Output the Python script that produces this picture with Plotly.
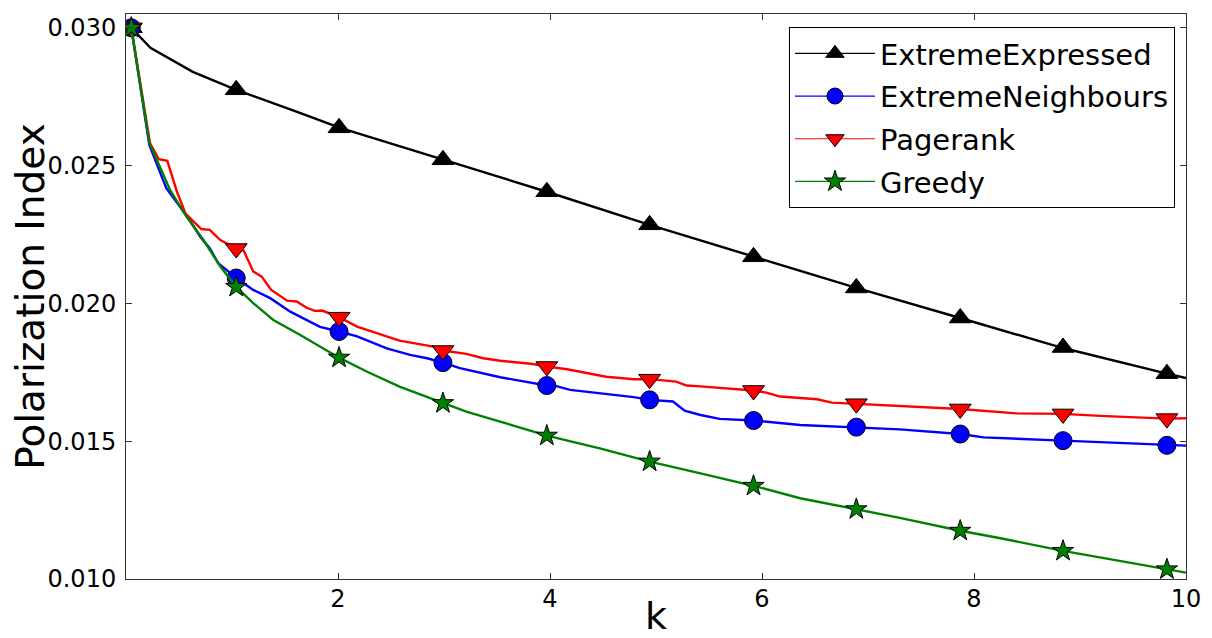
import plotly.graph_objects as go

# ---- data ----
marker_k = [0.05, 1.04, 2.01, 2.99, 3.97, 4.94, 5.92, 6.89, 7.87, 8.84, 9.82]

ee_k = [0.05, 0.23, 0.63, 1.04, 1.64, 2.02, 3.0, 3.97, 4.94, 5.92, 6.89, 7.87, 8.84, 9.82, 10.0]
ee_v = [0.0300, 0.02927, 0.0284, 0.02775, 0.02691, 0.02637, 0.02521, 0.02405, 0.02285,
        0.02169, 0.02056, 0.01947, 0.01838, 0.01745, 0.01729]
ee_marker_v = [0.0300, 0.02775, 0.02637, 0.02521, 0.02405, 0.02285, 0.02169, 0.02056,
               0.01947, 0.01840, 0.01745]

en_k = [0.05, 0.22, 0.38, 0.60, 0.70, 0.79, 0.87, 1.04, 1.2, 1.36, 1.55, 1.70, 1.83, 2.01,
        2.18, 2.46, 2.68, 2.84, 2.99, 3.15, 3.28, 3.53, 3.97, 4.06, 4.19, 4.47, 4.79, 4.94,
        5.16, 5.27, 5.42, 5.60, 5.92, 6.36, 6.89, 7.30, 7.87, 8.09, 8.84, 9.19, 9.82, 10.0]
en_v = [0.0300, 0.02575, 0.02418, 0.02303, 0.02242, 0.02200, 0.02146, 0.02092, 0.02049,
        0.02019, 0.01970, 0.01940, 0.01915, 0.01898, 0.01880, 0.01837, 0.01813, 0.01801,
        0.01785, 0.01765, 0.01753, 0.01732, 0.01702, 0.01700, 0.01686, 0.01674, 0.01660,
        0.01650, 0.01644, 0.01611, 0.01595, 0.01581, 0.01575, 0.01559, 0.01551, 0.01543,
        0.01526, 0.01514, 0.01502, 0.01496, 0.01485, 0.01484]
en_marker_v = [0.0300, 0.02092, 0.01898, 0.01785, 0.01702, 0.01650, 0.01575, 0.01551,
               0.01526, 0.01502, 0.01485]

pr_k = [0.05, 0.226, 0.31, 0.39, 0.48, 0.56, 0.71, 0.79, 0.89, 1.04, 1.11, 1.20, 1.28, 1.37,
        1.52, 1.61, 1.70, 1.78, 1.85, 2.01, 2.18, 2.37, 2.58, 2.90, 2.99, 3.21, 3.37, 3.53,
        3.84, 3.97, 4.16, 4.53, 4.79, 4.94, 5.19, 5.29, 5.42, 5.92, 6.04, 6.17, 6.52, 6.66,
        6.89, 7.30, 7.87, 8.40, 8.84, 9.19, 9.82, 10.0]
pr_v = [0.0300, 0.02582, 0.02523, 0.02517, 0.02406, 0.02327, 0.02270, 0.02267, 0.02230,
        0.02199, 0.02192, 0.02116, 0.02097, 0.02049, 0.02010, 0.02007, 0.01985, 0.01973,
        0.01974, 0.01950, 0.01916, 0.01892, 0.01865, 0.01843, 0.01829, 0.01817, 0.01801,
        0.01792, 0.01780, 0.01771, 0.01761, 0.01734, 0.01725, 0.01725, 0.01716, 0.01702,
        0.01699, 0.01684, 0.01676, 0.01662, 0.01652, 0.01640, 0.01636, 0.01628, 0.01617,
        0.01601, 0.01599, 0.01592, 0.01582, 0.01583]
pr_marker_v = [0.0300, 0.02199, 0.01950, 0.01829, 0.01771, 0.01725, 0.01684, 0.01636,
               0.01617, 0.01599, 0.01582]

gr_k = [0.05, 0.22, 0.415, 0.57, 0.73, 0.89, 1.04, 1.2, 1.39, 1.56, 1.64, 2.01, 2.27, 2.58,
        2.99, 3.21, 3.53, 3.97, 4.47, 4.94, 5.42, 5.92, 6.36, 6.89, 7.30, 7.87, 8.25, 8.84,
        9.19, 9.82, 10.0]
gr_v = [0.0300, 0.02583, 0.02412, 0.02315, 0.02230, 0.02134, 0.02060, 0.02001, 0.01940,
        0.01904, 0.01886, 0.01803, 0.01753, 0.01698, 0.01638, 0.01607, 0.01571, 0.01520,
        0.01474, 0.01426, 0.01383, 0.01338, 0.01293, 0.01253, 0.01222, 0.01175, 0.01148,
        0.01102, 0.01079, 0.01035, 0.01023]
gr_marker_v = [0.0300, 0.0206, 0.01803, 0.01638, 0.01520, 0.01426, 0.01338, 0.01253,
               0.01175, 0.01102, 0.01035]

series_names = ["ExtremeExpressed", "ExtremeNeighbours", "Pagerank", "Greedy"]
x_ticks = [2, 4, 6, 8, 10]
y_ticks = [0.010, 0.015, 0.020, 0.025, 0.030]

# ---- style ----
styles = [
    dict(color="#000000", symbol="triangle-up", size=19),
    dict(color="#0000ff", symbol="circle", size=18),
    dict(color="#ff0000", symbol="triangle-down", size=19),
    dict(color="#008000", symbol="star", size=16),
]
lines = [(ee_k, ee_v), (en_k, en_v), (pr_k, pr_v), (gr_k, gr_v)]
marks = [ee_marker_v, en_marker_v, pr_marker_v, gr_marker_v]

fig = go.Figure()
for name, (lk, lv), mv, st in zip(series_names, lines, marks, styles):
    fig.add_trace(go.Scatter(x=lk, y=lv, mode="lines", showlegend=False,
                             line=dict(color=st["color"], width=2.4), hoverinfo="skip"))
    fig.add_trace(go.Scatter(x=marker_k, y=mv, mode="markers", showlegend=False,
                             marker=dict(color=st["color"], symbol=st["symbol"], size=st["size"],
                                         line=dict(color="black", width=1))))
for i, (name, st) in enumerate(zip(series_names, styles)):
    fig.add_trace(go.Scatter(x=[None], y=[None], mode="lines+markers", name=name,
                             legendgroup=str(i),
                             line=dict(color=st["color"], width=1.2),
                             marker=dict(color=st["color"], symbol=st["symbol"], size=16,
                                         line=dict(color="black", width=1))))

axis_common = dict(showline=True, linecolor="#333333", linewidth=1, mirror="allticks",
                   ticks="inside", ticklen=6, tickcolor="#333333", showgrid=False,
                   zeroline=False, automargin=False,
                   tickfont=dict(size=24, color="black"))

# the page body has an 8px default margin, so the figure is sized to fit the window
fig.update_layout(
    width=1204, height=630,
    margin=dict(l=118, r=26, t=6, b=59),
    paper_bgcolor="white", plot_bgcolor="white",
    font=dict(family="DejaVu Sans", color="black"),
    xaxis=dict(range=[0, 10], tickvals=x_ticks, ticktext=[str(t) for t in x_ticks],
               ticklabelstandoff=-2,
               title=dict(text="k", font=dict(size=38), standoff=2), **axis_common),
    yaxis=dict(range=[0.010, 0.0305], tickvals=y_ticks,
               ticktext=["%.3f" % t for t in y_ticks], ticklabelstandoff=4,
               title=dict(text="Polarization Index", font=dict(size=39), standoff=8),
               **axis_common),
    legend=dict(x=0.9896, y=0.977, xanchor="right", yanchor="top",
                bgcolor="white", bordercolor="black", borderwidth=1,
                font=dict(size=29), traceorder="grouped", tracegroupgap=2,
                itemwidth=80),
    showlegend=True,
)

fig.write_html("out.html")
